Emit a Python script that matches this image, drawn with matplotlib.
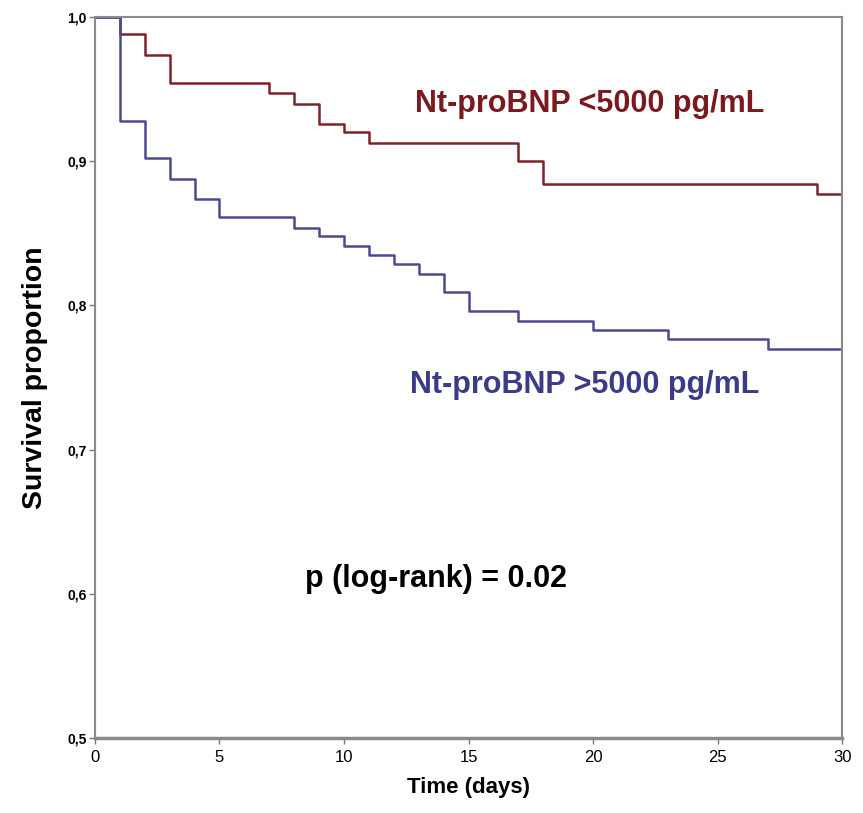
import matplotlib
matplotlib.use("Agg")
import matplotlib.pyplot as plt
from matplotlib.ticker import FuncFormatter


# Kaplan-Meier steps
red_times = [0, 1, 2, 3, 7, 8, 9, 10, 11, 17, 18, 29, 30]
red_surv = [1.0, 0.988, 0.974, 0.954, 0.947, 0.940, 0.926, 0.920, 0.913,
            0.900, 0.884, 0.877, 0.877]

blue_times = [0, 1, 2, 3, 4, 5, 8, 9, 10, 11, 12, 13, 14, 15, 17, 20, 23, 27, 30]
blue_surv = [1.0, 0.928, 0.902, 0.888, 0.874, 0.861, 0.854, 0.848, 0.841,
             0.835, 0.829, 0.822, 0.809, 0.796, 0.789, 0.783, 0.777, 0.770, 0.770]

x_ticks = [0, 5, 10, 15, 20, 25, 30]
y_ticks = [0.5, 0.6, 0.7, 0.8, 0.9, 1.0]

RED = "#7d2228"
BLUE = "#4a4a92"
RED_TEXT = "#7a1a1f"
BLUE_TEXT = "#3b3b8a"

plt.rcParams["font.family"] = ["Liberation Sans", "DejaVu Sans"]

fig = plt.figure(figsize=(8.63, 8.13), dpi=100)
ax = fig.add_axes([0.110, 0.0923, 0.866, 0.8867])

ax.step(red_times, red_surv, where="post", color=RED, linewidth=1.8)
ax.step(blue_times, blue_surv, where="post", color=BLUE, linewidth=1.8)
ax.plot([red_times[-1]], [red_surv[-1]], marker="|", color=RED, markersize=6)
ax.plot([blue_times[-1]], [blue_surv[-1]], marker="|", color=BLUE, markersize=6)

ax.set_xlim(0, 30)
ax.set_ylim(0.5, 1.0)
ax.set_xticks(x_ticks)
ax.set_yticks(y_ticks)
ax.yaxis.set_major_formatter(FuncFormatter(lambda v, p: f"{v:.1f}".replace(".", ",")))

for label in ax.get_xticklabels():
    label.set_fontsize(12)
for label in ax.get_yticklabels():
    label.set_fontsize(10)
    label.set_fontweight("bold")

ax.tick_params(axis="x", direction="out", length=4, width=1, color="#777777", pad=5)
ax.tick_params(axis="y", direction="out", length=4, width=1, color="#777777", pad=2)

for side in ["left", "right", "top"]:
    ax.spines[side].set_color("#8a8a8a")
    ax.spines[side].set_linewidth(1.5)
ax.spines["bottom"].set_color("#8a8a8a")
ax.spines["bottom"].set_linewidth(2.5)

ax.set_xlabel("Time (days)", fontsize=16, fontweight="bold", labelpad=8)
ax.set_ylabel("Survival proportion", fontsize=20.5, fontweight="bold", labelpad=14)

ax.text(12.85, 0.940, "Nt-proBNP <5000 pg/mL", color=RED_TEXT, fontsize=22,
        fontweight="bold", va="center", ha="left")
ax.text(12.65, 0.745, "Nt-proBNP >5000 pg/mL", color=BLUE_TEXT, fontsize=22,
        fontweight="bold", va="center", ha="left")
ax.text(8.43, 0.610, "p (log-rank) = 0.02", color="black", fontsize=22,
        fontweight="bold", va="center", ha="left")

fig.savefig("out.png", dpi=100)
